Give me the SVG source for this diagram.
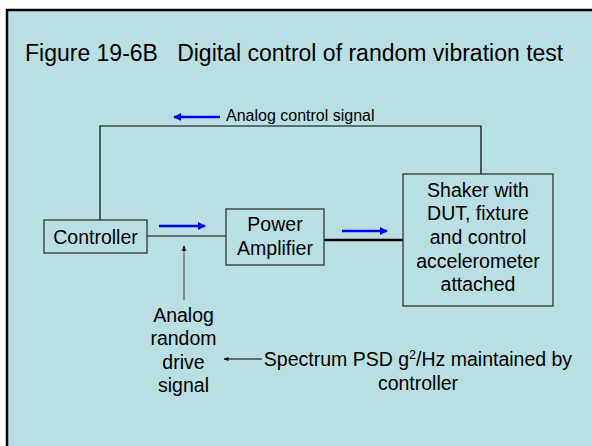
<svg xmlns="http://www.w3.org/2000/svg" width="592" height="446" viewBox="0 0 592 446">
<style>
text{font-family:"Liberation Sans",Arial,sans-serif;fill:#000}
.t{font-size:19.5px;text-anchor:middle}
.box{fill:none;stroke:#333;stroke-width:1.3}
.ln{fill:none;stroke:#000;stroke-width:1.2}
.blue{fill:none;stroke:#0000FF;stroke-width:2.5}
</style>
<defs>
<marker id="bh" viewBox="0 0 10 10" refX="9" refY="5" markerWidth="3.2" markerHeight="3.2" orient="auto" markerUnits="strokeWidth"><path d="M0,0 L10,5 L0,10 Z" fill="#0000FF"/></marker>
<marker id="kh" viewBox="0 0 10 10" refX="9" refY="5" markerWidth="5" markerHeight="5" orient="auto" markerUnits="strokeWidth"><path d="M0,1 L10,5 L0,9 Z" fill="#000"/></marker>
</defs>
<rect x="0" y="0" width="592" height="446" fill="#fff"/>
<rect x="7" y="10" width="600" height="450" fill="#B9DFE3" stroke="#000" stroke-width="2.5"/>
<text x="25" y="61" xml:space="preserve" style="font-size:23px;white-space:pre">Figure 19-6B   Digital control of random vibration test</text>
<g id="connectors">
<polyline class="ln" points="100,220 100,126 481,126 481,174"/>
<line class="ln" x1="147" y1="236" x2="226" y2="236"/>
<line x1="324" y1="240" x2="403" y2="240" stroke="#000" stroke-width="2.5"/>
<line x1="184" y1="300" x2="184" y2="246" stroke="#555" stroke-width="1.2" marker-end="url(#kh)"/>
<line x1="262" y1="359" x2="224" y2="359" stroke="#000" stroke-width="1" marker-end="url(#kh)"/>
<line class="blue" x1="220" y1="117" x2="174" y2="117" marker-end="url(#bh)"/>
<line class="blue" x1="159" y1="226" x2="205" y2="226" marker-end="url(#bh)"/>
<line class="blue" x1="342" y1="231" x2="387" y2="231" marker-end="url(#bh)"/>
</g>
<text x="226" y="121" style="font-size:16px">Analog control signal</text>
<g id="controller">
<rect class="box" x="44" y="220" width="103" height="33"/>
<text class="t" x="95.5" y="243.5">Controller</text>
</g>
<g id="amplifier">
<rect class="box" x="226" y="209" width="98" height="56"/>
<text class="t" x="275" y="231">Power</text>
<text class="t" x="275" y="255">Amplifier</text>
</g>
<g id="shaker">
<rect class="box" x="403" y="174" width="150" height="132"/>
<text class="t" x="478" y="197">Shaker with</text>
<text class="t" x="478" y="220">DUT, fixture</text>
<text class="t" x="478" y="244">and control</text>
<text class="t" x="478" y="268">accelerometer</text>
<text class="t" x="478" y="291">attached</text>
</g>
<g id="drive-label">
<text class="t" x="183.5" y="322">Analog</text>
<text class="t" x="183.5" y="345">random</text>
<text class="t" x="183.5" y="368.5">drive</text>
<text class="t" x="183.5" y="392">signal</text>
</g>
<g id="spectrum-label">
<text class="t" x="418" y="366">Spectrum PSD g<tspan dy="-7" style="font-size:12.5px">2</tspan><tspan dy="7">/Hz maintained by</tspan></text>
<text class="t" x="418" y="389.5">controller</text>
</g>
</svg>
